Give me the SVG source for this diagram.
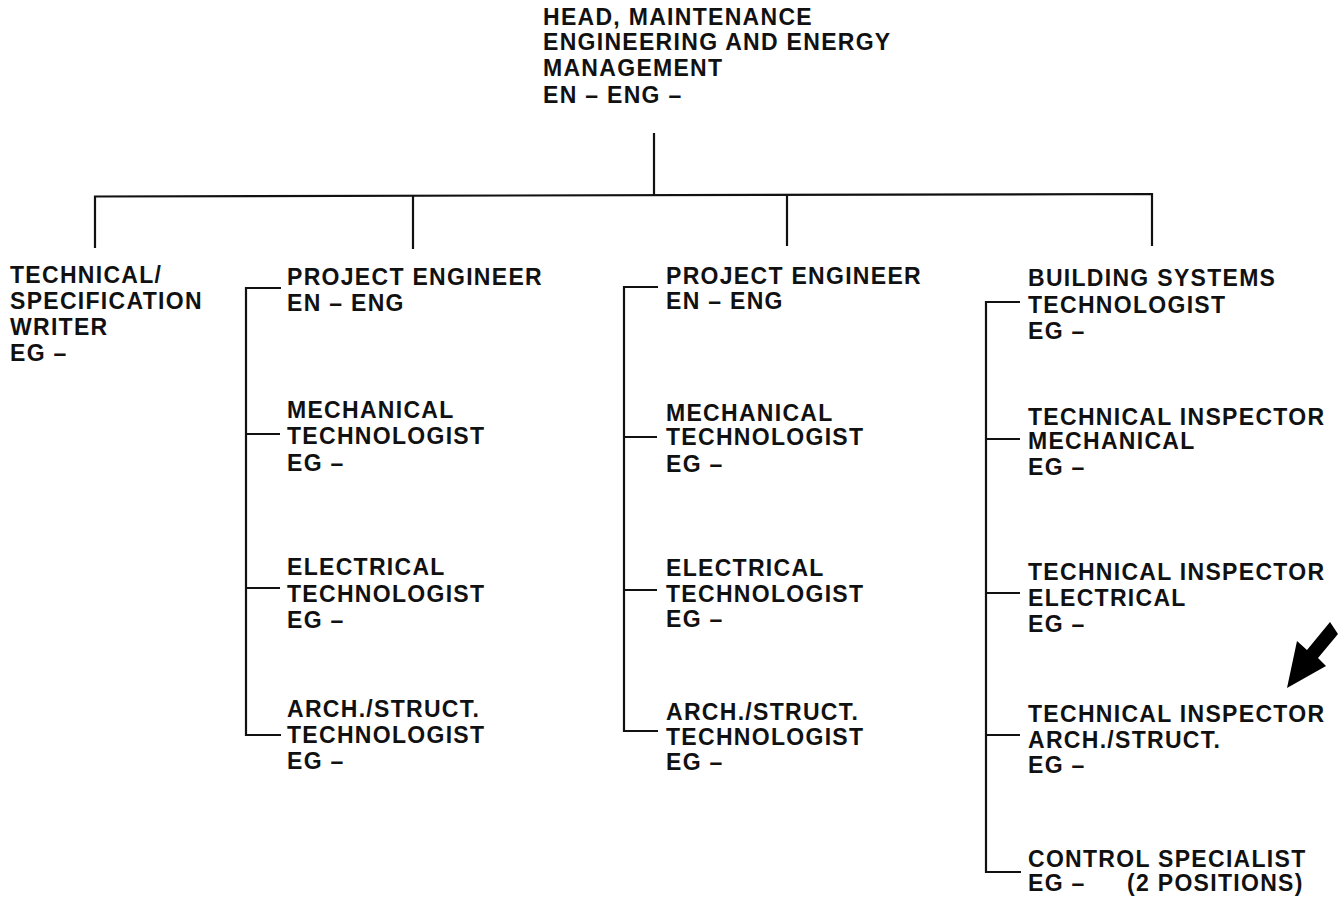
<svg xmlns="http://www.w3.org/2000/svg" width="1338" height="903" viewBox="0 0 1338 903">
<style>
text{font-family:"Liberation Sans",Arial,sans-serif;font-weight:bold;font-size:23px;letter-spacing:1.3px;fill:#111}
.ln{stroke:#111;stroke-width:2.2;fill:none}
</style>
<rect x="0" y="0" width="1338" height="903" fill="#fff"/>
<g id="connectors">
<path class="ln" d="M654,133 V195"/>
<path class="ln" d="M95,248 V196.5 L1152,194 V246"/>
<path class="ln" d="M413,195 V249"/>
<path class="ln" d="M787,195 V246"/>
<path class="ln" d="M281,288 H246 V735 H281 M246,434 H280 M246,588 H280"/>
<path class="ln" d="M658,287 H624 V731 H658 M624,437 H657 M624,590 H657"/>
<path class="ln" d="M1020,302 H986 V872 H1021 M986,439 H1020 M986,593 H1020 M986,735 H1020"/>
</g>
<g id="head">
<text x="543" y="25">HEAD, MAINTENANCE</text>
<text x="543" y="50">ENGINEERING AND ENERGY</text>
<text x="543" y="76">MANAGEMENT</text>
<text x="543" y="103">EN – ENG –</text>
</g>
<g id="spec-writer">
<text x="10" y="283">TECHNICAL/</text>
<text x="10" y="309">SPECIFICATION</text>
<text x="10" y="335">WRITER</text>
<text x="10" y="361">EG –</text>
</g>
<g id="pe1">
<text x="287" y="285">PROJECT ENGINEER</text>
<text x="287" y="311">EN – ENG</text>
</g>
<g id="pe1-mech">
<text x="287" y="418">MECHANICAL</text>
<text x="287" y="444">TECHNOLOGIST</text>
<text x="287" y="471">EG –</text>
</g>
<g id="pe1-elec">
<text x="287" y="575">ELECTRICAL</text>
<text x="287" y="602">TECHNOLOGIST</text>
<text x="287" y="628">EG –</text>
</g>
<g id="pe1-arch">
<text x="287" y="717">ARCH./STRUCT.</text>
<text x="287" y="743">TECHNOLOGIST</text>
<text x="287" y="769">EG –</text>
</g>
<g id="pe2">
<text x="666" y="284">PROJECT ENGINEER</text>
<text x="666" y="309">EN – ENG</text>
</g>
<g id="pe2-mech">
<text x="666" y="421">MECHANICAL</text>
<text x="666" y="445">TECHNOLOGIST</text>
<text x="666" y="472">EG –</text>
</g>
<g id="pe2-elec">
<text x="666" y="576">ELECTRICAL</text>
<text x="666" y="602">TECHNOLOGIST</text>
<text x="666" y="627">EG –</text>
</g>
<g id="pe2-arch">
<text x="666" y="720">ARCH./STRUCT.</text>
<text x="666" y="745">TECHNOLOGIST</text>
<text x="666" y="770">EG –</text>
</g>
<g id="bst">
<text x="1028" y="286">BUILDING SYSTEMS</text>
<text x="1028" y="313">TECHNOLOGIST</text>
<text x="1028" y="339">EG –</text>
</g>
<g id="ti-mech">
<text x="1028" y="425">TECHNICAL INSPECTOR</text>
<text x="1028" y="449">MECHANICAL</text>
<text x="1028" y="475">EG –</text>
</g>
<g id="ti-elec">
<text x="1028" y="580">TECHNICAL INSPECTOR</text>
<text x="1028" y="606">ELECTRICAL</text>
<text x="1028" y="632">EG –</text>
</g>
<g id="ti-arch">
<text x="1028" y="722">TECHNICAL INSPECTOR</text>
<text x="1028" y="748">ARCH./STRUCT.</text>
<text x="1028" y="773">EG –</text>
</g>
<g id="control">
<text x="1028" y="867">CONTROL SPECIALIST</text>
<text x="1028" y="891">EG –<tspan x="1127">(2 POSITIONS)</tspan></text>
</g>
<g id="pointer">
<polygon points="1287,688 1326,666 1318,658 1338,634 1330,622 1307,650 1297,641" fill="#000"/>
</g>
</svg>
